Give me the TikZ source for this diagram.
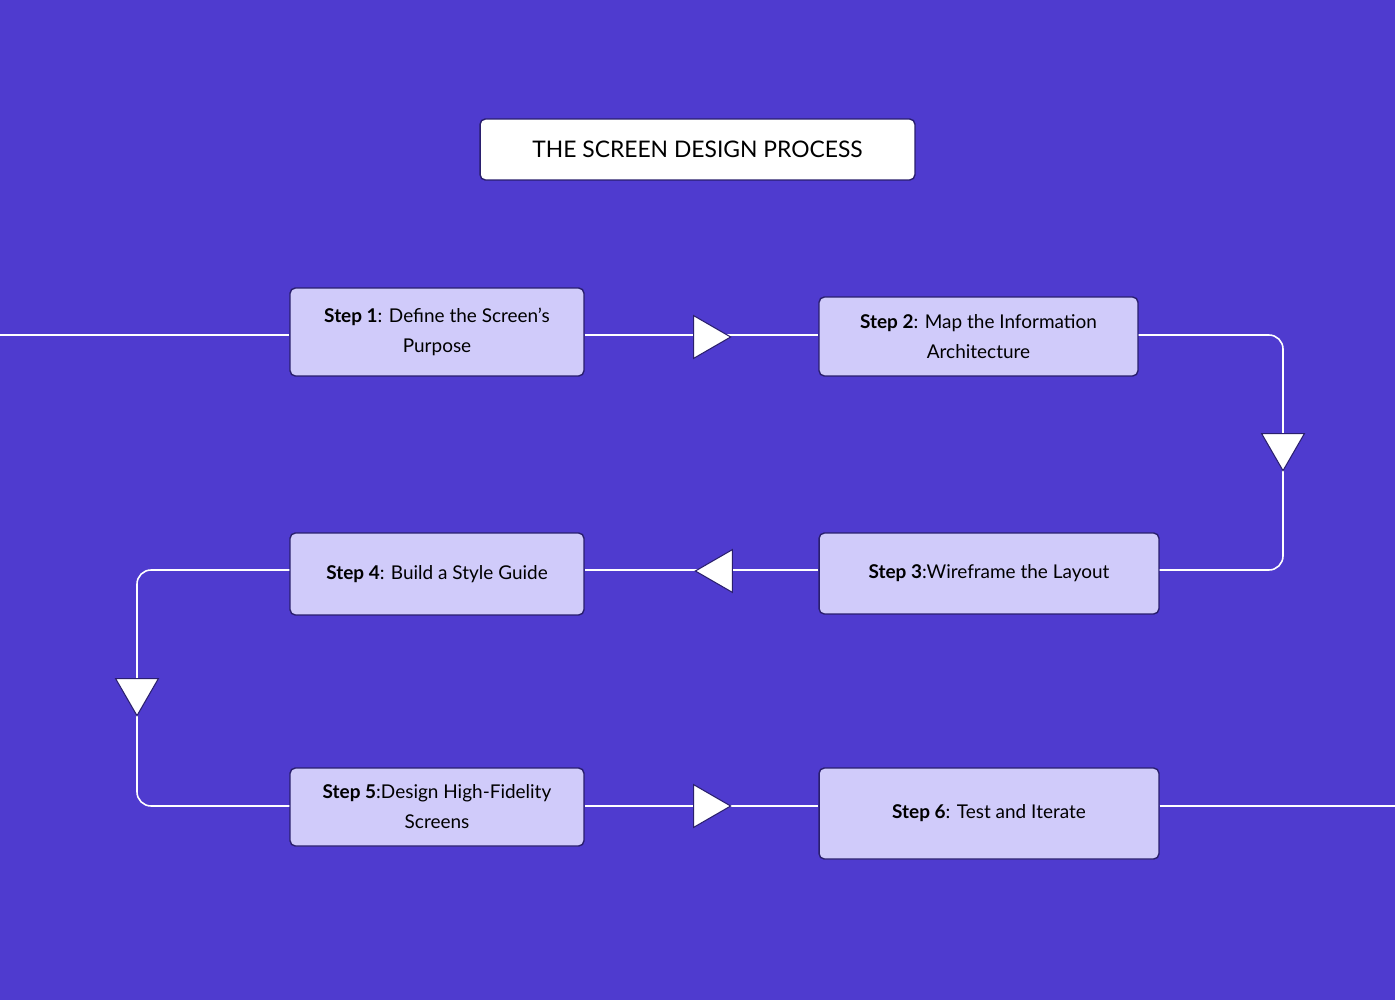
\documentclass[tikz,border=0pt]{standalone}
\usepackage{fontspec}
\setmainfont{Lato}
\usetikzlibrary{shapes.geometric,positioning}
\definecolor{bgpurple}{HTML}{4F3BCF}
\definecolor{boxfill}{HTML}{D0CBFA}
\definecolor{boxline}{HTML}{2A1F6E}
\begin{document}
\begin{tikzpicture}[x=0.02cm, y=-0.02cm, thick, every text node part/.style={align=center},
  stepbox/.style={draw=boxline, fill=boxfill, rounded corners=3pt, minimum height=1.6cm, font=\fontsize{10.8}{17}\selectfont},
  tri/.style={draw=boxline, fill=white, isosceles triangle, isosceles triangle apex angle=60, inner sep=0pt, minimum height=0.74cm, line width=0.6pt},
  flow/.style={white, line width=0.9pt, rounded corners=8pt}]
\fill[bgpurple] (0,0) rectangle (1395,1000);
\useasboundingbox (0,0) rectangle (1395,1000);
\draw
  node at (697.5,149.5)[draw=boxline, fill=white, rounded corners=3pt, minimum width=8.7cm, minimum height=1.22cm, font=\fontsize{13}{15}\selectfont](title){THE SCREEN DESIGN PROCESS}
  node at (437,332)[stepbox, minimum width=5.88cm, minimum height=1.76cm](s1){\textbf{Step 1}: Define the Screen's\\Purpose}
  node at (978.5,336.5)[stepbox, minimum width=6.38cm, minimum height=1.58cm](s2){\textbf{Step 2}: Map the Information\\Architecture}
  node at (989,573.5)[stepbox, minimum width=6.8cm, minimum height=1.62cm](s3){\textbf{Step 3}:Wireframe the Layout}
  node at (437,574)[stepbox, minimum width=5.88cm, minimum height=1.64cm](s4){\textbf{Step 4}: Build a Style Guide}
  node at (437,807)[stepbox, minimum width=5.88cm, minimum height=1.56cm](s5){\textbf{Step 5}:Design High-Fidelity\\Screens}
  node at (989,813.5)[stepbox, minimum width=6.8cm, minimum height=1.82cm](s6){\textbf{Step 6}: Test and Iterate};
\coordinate (in) at (0,335);
\coordinate (out) at (1395,806);
\coordinate (c2) at (1283,335);
\coordinate (c3) at (1283,570);
\coordinate (c4) at (137,570);
\coordinate (c5) at (137,806);
% connectors
\draw[flow] (in) -- (s1.west |- in);
\draw[flow] (s1.east |- in) -- (s2.west |- in);
\draw[flow] (s2.east |- c2) -- (c2) -- (c3) -- (s3.east |- c3);
\draw[flow] (s3.west |- c3) -- (s4.east |- c4);
\draw[flow] (s4.west |- c4) -- (c4) -- (c5) -- (s5.west |- c5);
\draw[flow] (s5.east |- c5) -- (s6.west |- c5);
\draw[flow] (s6.east |- out) -- (out);
% arrow heads
\node[tri] (t12) at (706,337) {};
\node[tri, rotate=-90] (t23) at (1283,446) {};
\node[tri, rotate=180] (t34) at (720,571) {};
\node[tri, rotate=-90] (t45) at (137,691) {};
\node[tri] (t56) at (706,806) {};
\end{tikzpicture}
\end{document}
